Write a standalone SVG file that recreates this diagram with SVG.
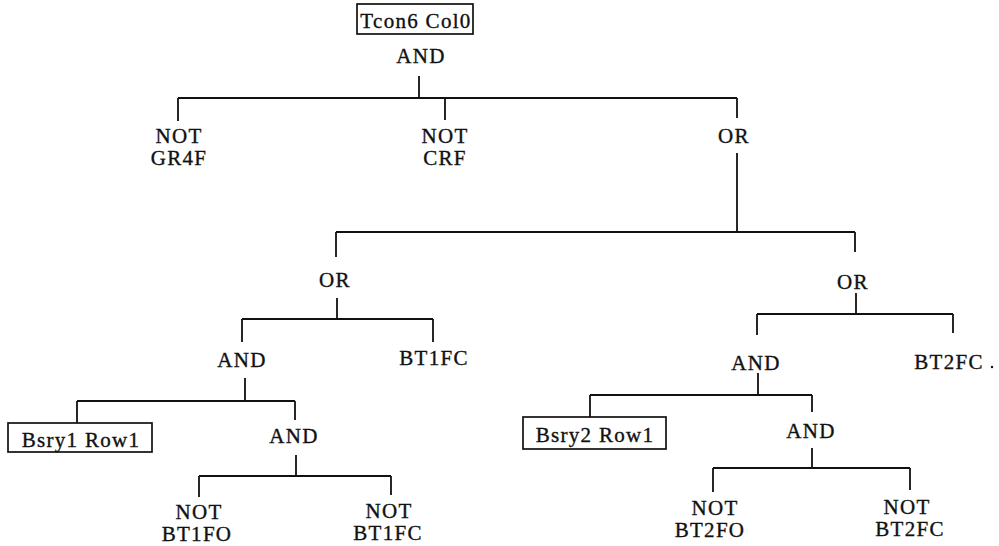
<svg xmlns="http://www.w3.org/2000/svg" width="999" height="546" viewBox="0 0 999 546">
  <style>
    text { font-family: "Liberation Serif", "Times New Roman", serif; font-size: 21px; letter-spacing: 1.3px; fill: #111; stroke: #111; stroke-width: 0.35; text-anchor: middle; }
    .wire { fill: none; stroke: #111; stroke-width: 1.8; }
    .box { fill: #fff; stroke: #111; stroke-width: 1.7; }
  </style>
  <rect width="999" height="546" fill="#fff"/>

  <!-- tree connectors -->
  <g id="connectors" class="wire">
    <path d="M419 76 V98 M178 98 H737 M178 98 V121 M445 98 V120 M737 98 V118 M737 153 V232"/>
    <path d="M336 232 H855 M336 232 V257 M855 232 V252"/>
    <path d="M337 298 V319 M242 319 H433 M242 319 V342 M433 319 V342"/>
    <path d="M245 378 V401 M77 401 H295 M77 401 V423 M295 401 V420"/>
    <path d="M296 455 V476 M199 476 H391 M199 476 V497 M391 476 V495"/>
    <path d="M856 293 V314 M757 314 H953 M757 314 V335 M953 314 V333"/>
    <path d="M758 373 V395 M590 395 H812 M590 395 V417 M812 395 V412"/>
    <path d="M812 448 V468 M713 468 H910 M713 468 V492 M910 468 V490"/>
  </g>

  <g id="root">
    <rect class="box" x="357" y="4" width="116" height="30"/>
    <text x="416" y="28">Tcon6 Col0</text>
    <text x="421" y="63">AND</text>
  </g>
  <g id="not-gr4f">
    <text x="179" y="143">NOT</text>
    <text x="179" y="165">GR4F</text>
  </g>
  <g id="not-crf">
    <text x="445" y="143">NOT</text>
    <text x="445" y="165">CRF</text>
  </g>
  <g id="or-top"><text x="734" y="143">OR</text></g>

  <g id="or-left"><text x="335" y="287">OR</text></g>
  <g id="and-left"><text x="242" y="367">AND</text></g>
  <g id="bt1fc"><text x="434" y="365">BT1FC</text></g>
  <g id="bsry1">
    <rect class="box" x="8" y="423" width="144" height="29"/>
    <text x="81" y="447">Bsry1 Row1</text>
  </g>
  <g id="and-left-inner"><text x="294" y="443">AND</text></g>
  <g id="not-bt1fo">
    <text x="199" y="519">NOT</text>
    <text x="197" y="541">BT1FO</text>
  </g>
  <g id="not-bt1fc">
    <text x="389" y="518">NOT</text>
    <text x="388" y="540">BT1FC</text>
  </g>

  <g id="or-right"><text x="853" y="289">OR</text></g>
  <g id="and-right"><text x="756" y="370">AND</text></g>
  <g id="bt2fc">
    <text x="949" y="369">BT2FC</text>
    <circle cx="992" cy="367" r="1.2" fill="#111"/>
  </g>
  <g id="bsry2">
    <rect class="box" x="523" y="417" width="143" height="32"/>
    <text x="595" y="442">Bsry2 Row1</text>
  </g>
  <g id="and-right-inner"><text x="811" y="438">AND</text></g>
  <g id="not-bt2fo">
    <text x="715" y="515">NOT</text>
    <text x="710" y="537">BT2FO</text>
  </g>
  <g id="not-bt2fc">
    <text x="907" y="514">NOT</text>
    <text x="910" y="536">BT2FC</text>
  </g>
</svg>
